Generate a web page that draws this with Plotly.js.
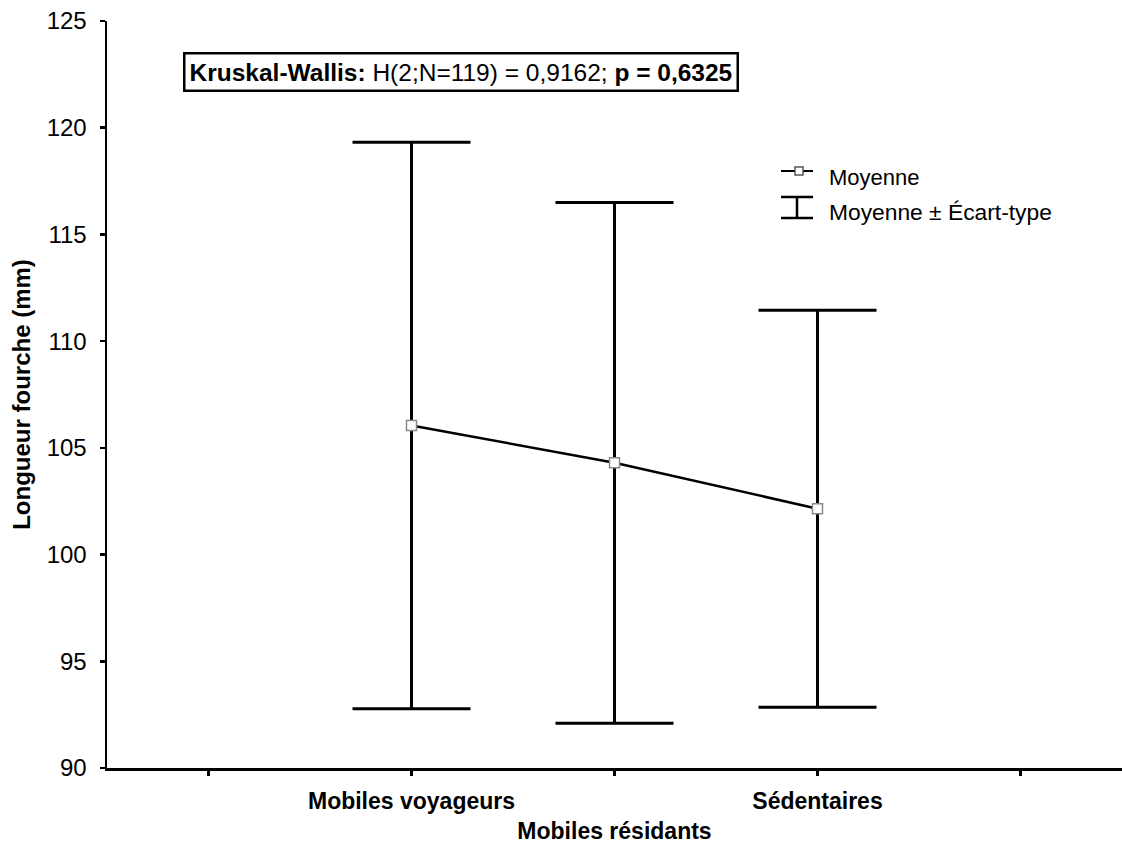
<!DOCTYPE html>
<html>
<head>
<meta charset="utf-8">
<script src="https://cdn.plot.ly/plotly-3.0.1.min.js"></script>
<style>
  html, body { margin: 0; padding: 0; background: #ffffff; }
  #chart { width: 1122px; height: 844px; }
</style>
</head>
<body>
<div id="chart"></div>
<script>
// Group labels and fork-length statistics (mm)
const categories = ['Mobiles voyageurs', 'Mobiles résidants', 'Sédentaires'];
const means = [106.05, 104.3, 102.15];
const stdDevs = [13.27, 12.2, 9.3];

// Axis ticks
const yTicks = [90, 95, 100, 105, 110, 115, 120, 125];
const xTickVals = [-1, 0, 1, 2, 3];

// Legend and annotation texts
const legendMean = 'Moyenne';
const legendSd = 'Moyenne ± Écart-type';
const testText = '<b>Kruskal-Wallis:</b> H(2;N=119) = 0,9162; <b>p = 0,6325</b>';
const yTitle = 'Longueur fourche (mm)';

const FONT = 'Liberation Sans, Arial, Helvetica, sans-serif';

// Plot-area geometry used to place the hand-drawn legend in paper units
const M = { l: 107, r: 0, t: 21, b: 76 };
const PW = 1122 - M.l - M.r;
const PH = 844 - M.t - M.b;
const px = x => (x - M.l) / PW;
const py = y => 1 - (y - M.t) / PH;

const xPos = categories.map((_, i) => i);
// Middle category label sits on a second row
const tickText = xTickVals.map(v => {
  const i = xPos.indexOf(v);
  if (i < 0) return '';
  return i % 2 === 1 ? '<br>' + categories[i] : categories[i];
});

const trace = {
  type: 'scatter',
  mode: 'lines+markers',
  x: xPos,
  y: means,
  line: { color: '#000000', width: 2.5 },
  marker: {
    symbol: 'square',
    size: 10,
    color: '#ffffff',
    line: { color: '#8a8a8a', width: 1.5 }
  },
  error_y: {
    type: 'data',
    array: stdDevs,
    symmetric: true,
    color: '#000000',
    thickness: 3,
    width: 59
  },
  showlegend: false,
  hoverinfo: 'skip'
};

const legendShapes = [
  // mean symbol: line with a hollow square
  { type: 'line', xref: 'paper', yref: 'paper', x0: px(781), x1: px(813), y0: py(171), y1: py(171),
    line: { color: '#000', width: 2 } },
  { type: 'rect', xref: 'paper', yref: 'paper', x0: px(795), x1: px(803), y0: py(175), y1: py(167),
    fillcolor: '#fff', line: { color: '#555', width: 1.5 } },
  // error-bar symbol
  { type: 'line', xref: 'paper', yref: 'paper', x0: px(797), x1: px(797), y0: py(197), y1: py(218),
    line: { color: '#000', width: 2.5 } },
  { type: 'line', xref: 'paper', yref: 'paper', x0: px(781), x1: px(813), y0: py(197), y1: py(197),
    line: { color: '#000', width: 2.5 } },
  { type: 'line', xref: 'paper', yref: 'paper', x0: px(781), x1: px(813), y0: py(218), y1: py(218),
    line: { color: '#000', width: 2.5 } }
];

const annotations = [
  {
    xref: 'paper', yref: 'paper', x: px(460.5), y: py(72.5),
    xanchor: 'center', yanchor: 'middle', showarrow: false,
    text: testText,
    font: { family: FONT, size: 24.5, color: '#000' },
    bgcolor: '#ffffff', bordercolor: '#000000', borderwidth: 2.5, borderpad: 4
  },
  {
    xref: 'paper', yref: 'paper', x: px(827), y: py(178),
    xanchor: 'left', yanchor: 'middle', showarrow: false,
    text: legendMean, font: { family: FONT, size: 22, color: '#000' }
  },
  {
    xref: 'paper', yref: 'paper', x: px(827), y: py(212),
    xanchor: 'left', yanchor: 'middle', showarrow: false,
    text: legendSd, font: { family: FONT, size: 22.8, color: '#000' }
  }
];

const layout = {
  width: 1122,
  height: 844,
  margin: M,
  paper_bgcolor: '#ffffff',
  plot_bgcolor: '#ffffff',
  showlegend: false,
  font: { family: FONT, color: '#000' },
  xaxis: {
    range: [-1.5, 3.5],
    tickmode: 'array',
    tickvals: xTickVals,
    ticktext: tickText,
    ticks: 'outside',
    ticklen: 5,
    tickwidth: 2.5,
    tickcolor: '#000',
    showline: true,
    linecolor: '#000',
    linewidth: 2.5,
    showgrid: false,
    zeroline: false,
    tickfont: { family: FONT, size: 23, color: '#000', weight: 'bold' },
    ticklabelstandoff: 6,
    automargin: false
  },
  yaxis: {
    range: [90, 125],
    tickmode: 'array',
    tickvals: yTicks,
    ticks: 'outside',
    ticklen: 5,
    tickwidth: 2.5,
    tickcolor: '#000',
    showline: true,
    linecolor: '#000',
    linewidth: 2.5,
    showgrid: false,
    zeroline: false,
    tickfont: { family: FONT, size: 24, color: '#000' },
    ticklabelstandoff: 8,
    title: {
      text: '<b>' + yTitle + '</b>',
      font: { family: FONT, size: 24, color: '#000' },
      standoff: 10
    },
    automargin: false
  },
  shapes: legendShapes,
  annotations: annotations
};

Plotly.newPlot('chart', [trace], layout, { displayModeBar: false, staticPlot: true });
</script>
</body>
</html>
